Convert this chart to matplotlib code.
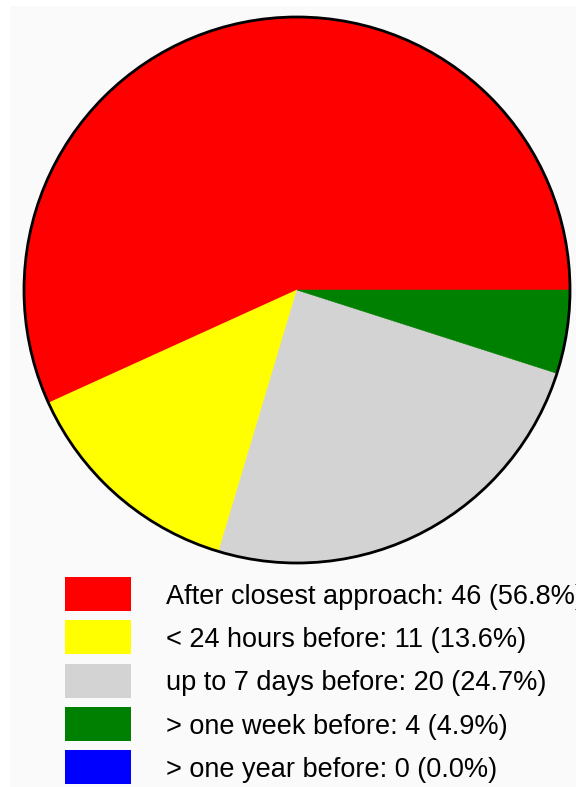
import matplotlib
matplotlib.use('Agg')
import matplotlib.pyplot as plt
from matplotlib.patches import Rectangle, Circle

# data
labels = ['After closest approach', '< 24 hours before', 'up to 7 days before',
          '> one week before', '> one year before']
counts = [46, 11, 20, 4, 0]
colors = ['#ff0000', '#ffff00', '#d3d3d3', '#008000', '#0000ff']

W, H = 576, 787
fig = plt.figure(figsize=(W / 100, H / 100), dpi=100, facecolor='white')
ax = fig.add_axes([0, 0, 1, 1])

# light grey panel behind everything
ax.add_patch(Rectangle((10, 6), W - 10, H - 6, facecolor='#fafafa', edgecolor='none', zorder=0))

cx, cy, r = 297, 290, 273
wedges, _ = ax.pie(counts, colors=colors, startangle=0, counterclock=False,
                   center=(cx, cy), radius=r, frame=True,
                   wedgeprops=dict(linewidth=0.4))
for w, c in zip(wedges, colors):
    w.set_edgecolor(c)
    w.set_zorder(2)
    if w.theta2 - w.theta1 == 0:
        w.set_visible(False)
ax.add_patch(Circle((cx, cy), r, facecolor='none', edgecolor='black', linewidth=2, zorder=3))
ax.set_xlim(0, W)
ax.set_ylim(H, 0)
ax.set_aspect('equal')
ax.axis('off')

total = sum(counts)
top0, step, bw, bh = 577, 43.25, 66, 34
for i, (lab, n, c) in enumerate(zip(labels, counts, colors)):
    y = top0 + i * step
    ax.add_patch(Rectangle((65, y), bw, bh, facecolor=c, edgecolor='none', zorder=2))
    ax.text(166, y + 27, '%s: %d (%.1f%%)' % (lab, n, 100.0 * n / total),
            fontsize=19.5, family='Liberation Sans', color='black', va='baseline', ha='left', zorder=3)

fig.savefig('out.png', dpi=100)
